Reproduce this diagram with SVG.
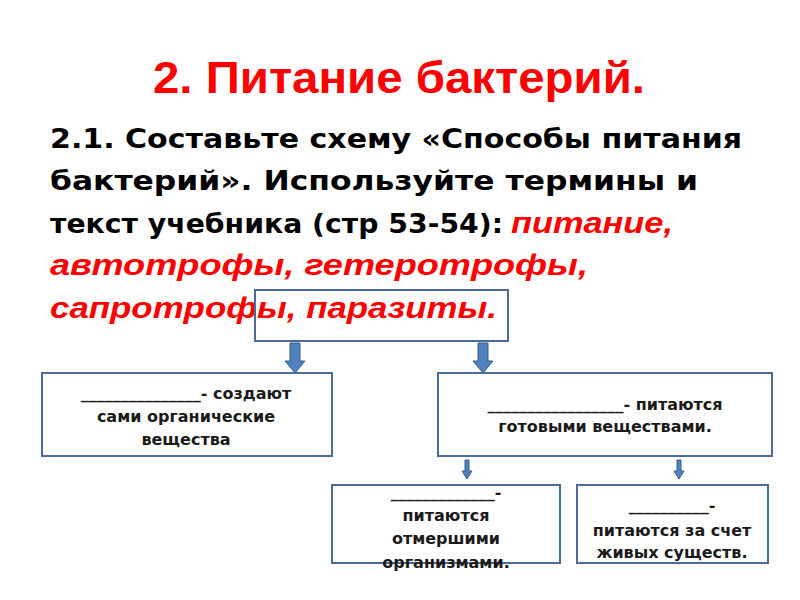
<svg xmlns="http://www.w3.org/2000/svg" width="800" height="600" viewBox="0 0 800 600">
<style>
.title{font-family:"Liberation Sans",Arial,sans-serif;font-weight:bold;font-size:44px;fill:#ff0000}
.body{font-family:"DejaVu Sans","Liberation Sans",sans-serif;font-weight:bold;font-size:26px;fill:#000}
.red{font-family:"Liberation Sans",Arial,sans-serif;font-weight:bold;font-size:29px;fill:#ff0000;font-style:italic}
.box{fill:none;stroke:#4a6c9b;stroke-width:2}
.lbl{font-family:"DejaVu Sans","Liberation Sans",sans-serif;font-weight:bold;font-size:16px;fill:#1a1a1a;text-anchor:middle}
.arr{fill:#4f81bd;stroke:#385d8a;stroke-width:1}
</style>
<rect width="800" height="600" fill="#fff"/>
<text class="title" x="153" y="93" textLength="492" lengthAdjust="spacingAndGlyphs">2. Питание бактерий.</text>
<g id="task">
<text class="body" x="50" y="148" textLength="692" lengthAdjust="spacingAndGlyphs">2.1. Составьте схему «Способы питания</text>
<text class="body" x="50" y="190" textLength="648" lengthAdjust="spacingAndGlyphs">бактерий». Используйте  термины и</text>
<text class="body" x="50" y="233" textLength="453" lengthAdjust="spacingAndGlyphs">текст учебника (стр 53-54):</text>
<text class="red" x="511" y="233" textLength="162" lengthAdjust="spacingAndGlyphs">питание,</text>
<text class="red" x="50" y="275" textLength="538" lengthAdjust="spacingAndGlyphs">автотрофы, гетеротрофы,</text>
<text class="red" x="50" y="318" textLength="447" lengthAdjust="spacingAndGlyphs">сапротрофы, паразиты.</text>
</g>
<g id="root"><rect class="box" x="255" y="290" width="253" height="51"/></g>
<g id="connectors">
<path class="arr" d="M290,343 H300 V361 H305 L295,373 L285,361 H290 Z"/>
<path class="arr" d="M478,343 H488 V361 H493 L483,373 L473,361 H478 Z"/>
<path class="arr" d="M465,460 H469 V471 H472 L467,479 L462,471 H465 Z"/>
<path class="arr" d="M677,460 H681 V471 H684 L679,479 L674,471 H677 Z"/>
</g>
<g id="autotrophs">
<rect class="box" x="42" y="373" width="290" height="83"/>
<text class="lbl" x="186" y="399">_______________- создают</text>
<text class="lbl" x="186" y="422">сами органические</text>
<text class="lbl" x="186" y="445">вещества</text>
</g>
<g id="heterotrophs">
<rect class="box" x="438" y="373" width="334" height="83"/>
<text class="lbl" x="605" y="410">_________________-  питаются</text>
<text class="lbl" x="605" y="432">готовыми веществами.</text>
</g>
<g id="saprotrophs">
<rect class="box" x="332" y="485" width="228" height="78"/>
<text class="lbl" x="446" y="498">_____________-</text>
<text class="lbl" x="446" y="521">питаются</text>
<text class="lbl" x="446" y="544">отмершими</text>
<text class="lbl" x="446" y="568">организмами.</text>
</g>
<g id="parasites">
<rect class="box" x="577" y="485" width="191" height="78"/>
<text class="lbl" x="672" y="511">__________-</text>
<text class="lbl" x="672" y="536">питаются за счет</text>
<text class="lbl" x="672" y="558">живых существ.</text>
</g>
</svg>
